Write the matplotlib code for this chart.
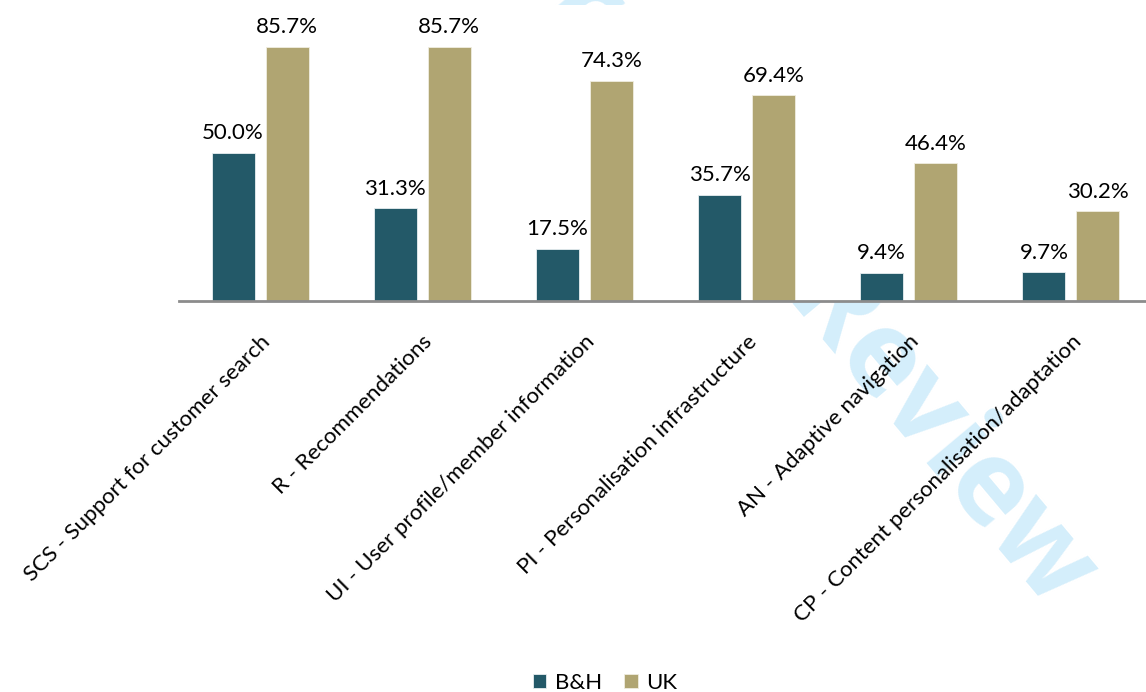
import matplotlib.pyplot as plt
import numpy as np

categories = ["SCS - Support for customer search", "R - Recommendations",
              "UI - User profile/member information", "PI - Personalisation infrastructure",
              "AN - Adaptive navigation", "CP - Content personalisation/adaptation"]
bh = [50.0, 31.3, 17.5, 35.7, 9.4, 9.7]
uk = [85.7, 85.7, 74.3, 69.4, 46.4, 30.2]
series = ["B&H", "UK"]

plt.rcParams['font.family'] = ['Lato', 'DejaVu Sans']

W, H = 1146, 692
fig = plt.figure(figsize=(W/100, H/100), dpi=100)

# watermark behind the chart
fig.text(1050/W, 1-610/H, "For Peer Review", rotation=-50, rotation_mode='anchor',
         ha='right', va='baseline', fontsize=84, color='#d4eefb', fontweight='bold',
         family='Open Sans', zorder=-5)

ax = fig.add_axes([179/W, 1-301/H, 973/W, 296.4/H])
ax.set_facecolor('white')

x = np.arange(len(categories))
bw = 0.265
off = 0.1667
b1 = ax.bar(x - off, bh, bw, color='#235968', edgecolor='#e8eef0', linewidth=0.6, label=series[0])
b2 = ax.bar(x + off, uk, bw, color='#b0a572', edgecolor='#f0ede0', linewidth=0.6, label=series[1])

for bars, vals in ((b1, bh), (b2, uk)):
    for r, v in zip(bars, vals):
        ax.annotate(f"{v:.1f}%", (r.get_x() + r.get_width()/2, v), xytext=(0, 7),
                    textcoords='offset points', ha='center', va='bottom', fontsize=16)

ax.set_xlim(-0.5, len(categories) - 0.5)
ax.set_ylim(0, 100)
ax.set_yticks([])
ax.set_xticks(x)
ax.set_xticklabels(categories, rotation=45, ha='right', rotation_mode='anchor', fontsize=16)
ax.tick_params(axis='x', length=0, pad=22)
for s in ['top', 'right', 'left']:
    ax.spines[s].set_visible(False)
ax.spines['bottom'].set_color('#8c8c8c')
ax.spines['bottom'].set_linewidth(2)

fig.legend(handles=[b1, b2], labels=series, loc='center', bbox_to_anchor=(605/W, 1-683/H),
           ncol=2, frameon=False, fontsize=16, handlelength=0.6, handleheight=0.6,
           handletextpad=0.4, columnspacing=1.0)

fig.savefig('out.png', dpi=100)
